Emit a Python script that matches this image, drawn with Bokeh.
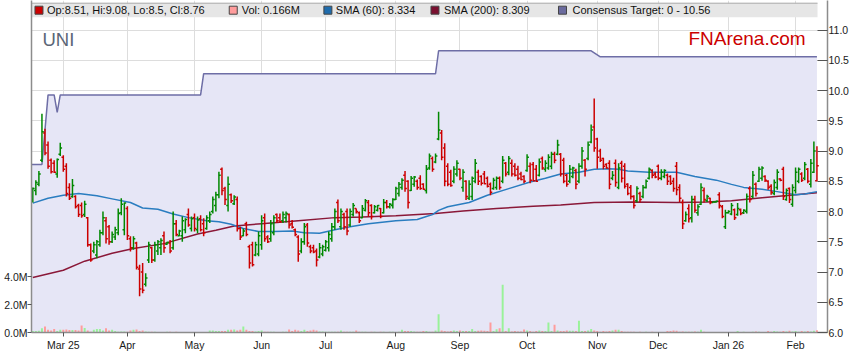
import pandas as pd
from bokeh.plotting import figure
from bokeh.models import Range1d, LinearAxis, FixedTicker, PrintfTickFormatter
from bokeh.core.properties import value
from bokeh.embed import file_html
from bokeh.resources import INLINE

# ---------------- data ----------------
ticker_name = "UNI"
site_name = "FNArena.com"
start_date = "2025-02-17"

opens = [8.20, 8.35, 8.45, 8.85, 9.30, 9.10, 8.85, 8.80, 8.62, 8.95,
         8.90, 8.75, 8.40, 8.25, 8.25, 8.10, 8.10, 7.95, 7.90, 7.45,
         7.35, 7.28, 7.45, 7.65, 7.85, 7.75, 7.50, 7.58, 7.65, 7.98,
         7.70, 8.05, 7.55, 7.40, 7.48, 7.05, 7.00, 6.80, 7.20, 7.40,
         7.20, 7.35, 7.40, 7.60, 7.46, 7.48, 7.40, 7.80, 7.60, 7.60,
         7.70, 7.95, 7.72, 7.90, 7.70, 7.88, 7.80, 7.72, 7.85, 8.00,
         8.10, 8.28, 8.70, 8.38, 8.10, 8.28, 8.13, 8.20, 7.72, 7.60,
         7.80, 7.42, 7.45, 7.28, 7.30, 7.45, 7.90, 7.58, 7.55, 7.65,
         7.95, 7.90, 7.85, 7.90, 7.95, 7.80, 7.70, 7.58, 7.35, 7.50,
         7.78, 7.42, 7.40, 7.35, 7.25, 7.30, 7.36, 7.40, 7.55, 7.75,
         8.15, 7.75, 7.95, 8.00, 7.78, 7.95, 8.05, 7.98, 7.90, 8.02,
         8.15, 8.10, 7.98, 8.02, 8.05, 7.98, 8.15, 8.08, 8.10, 8.20,
         8.30, 8.40, 8.60, 8.50, 8.35, 8.45, 8.50, 8.55, 8.45, 8.35,
         8.72, 8.88, 8.82, 9.20, 9.30, 9.05, 8.75, 8.65, 8.50, 8.62,
         8.70, 8.40, 8.50, 8.22, 8.25, 8.50, 8.65, 8.58, 8.62, 8.55,
         8.45, 8.38, 8.40, 8.55, 8.50, 8.80, 8.65, 8.80, 8.75, 8.70,
         8.62, 8.58, 8.68, 8.75, 8.78, 8.70, 8.60, 8.88, 8.70, 8.72,
         8.75, 8.95, 8.95, 8.95, 8.85, 8.60, 8.50, 8.58, 8.68, 8.50,
         8.75, 8.85, 8.88, 9.15, 9.40, 9.20, 9.00, 8.88, 8.78, 8.80,
         8.55, 8.80, 8.40, 8.80, 8.75, 8.45, 8.40, 8.25, 8.18, 8.30,
         8.25, 8.40, 8.55, 8.68, 8.62, 8.75, 8.55, 8.58, 8.60, 8.58,
         8.50, 8.75, 8.40, 8.15, 7.85, 8.05, 7.90, 8.20, 7.98, 8.12,
         8.35, 8.18, 8.22, 8.15, 8.16, 8.28, 8.08, 7.75, 7.98, 7.96,
         8.03, 7.95, 8.03, 7.98, 8.00, 8.38, 8.25, 8.45, 8.50, 8.55,
         8.58, 8.50, 8.42, 8.30, 8.40, 8.54, 8.70, 8.20, 8.38, 8.12,
         8.35, 8.50, 8.62, 8.55, 8.70, 8.45, 8.65, 8.51]
highs = [8.40, 8.52, 8.67, 9.62, 9.37, 9.16, 8.88, 8.85, 8.88, 9.14,
         8.93, 8.80, 8.47, 8.54, 8.27, 8.13, 8.15, 8.18, 7.91, 7.47,
         7.50, 7.53, 7.70, 8.00, 7.91, 7.78, 7.67, 7.75, 8.05, 8.22,
         8.15, 8.09, 7.59, 7.59, 7.50, 7.12, 7.15, 6.98, 7.50, 7.42,
         7.50, 7.53, 7.56, 7.67, 7.50, 7.53, 8.00, 7.86, 7.70, 7.92,
         7.89, 8.05, 7.92, 7.97, 7.92, 7.94, 7.89, 7.94, 8.00, 8.25,
         8.33, 8.66, 8.73, 8.41, 8.58, 8.30, 8.27, 8.25, 7.75, 7.72,
         7.83, 7.45, 7.50, 7.50, 7.67, 7.94, 7.97, 7.61, 7.86, 7.94,
         7.97, 7.97, 8.00, 8.00, 7.97, 7.86, 7.72, 7.61, 7.56, 7.81,
         7.81, 7.45, 7.45, 7.39, 7.48, 7.45, 7.53, 7.67, 7.81, 8.05,
         8.20, 8.05, 7.98, 8.05, 8.05, 8.14, 8.05, 8.00, 8.11, 8.21,
         8.19, 8.12, 8.11, 8.11, 8.06, 8.21, 8.19, 8.14, 8.22, 8.41,
         8.49, 8.55, 8.67, 8.52, 8.59, 8.59, 8.53, 8.60, 8.47, 8.77,
         8.96, 8.91, 8.96, 9.65, 9.35, 9.13, 8.80, 8.69, 8.75, 8.85,
         8.71, 8.70, 8.52, 8.52, 8.58, 8.87, 8.69, 8.60, 8.67, 8.58,
         8.48, 8.56, 8.58, 8.58, 8.92, 8.82, 8.92, 8.86, 8.80, 8.76,
         8.66, 8.60, 8.95, 8.81, 8.82, 8.77, 8.88, 8.91, 8.85, 8.95,
         8.99, 8.99, 9.19, 8.97, 8.89, 8.62, 8.77, 8.74, 8.71, 8.80,
         9.07, 8.87, 9.16, 9.44, 9.87, 9.22, 9.04, 8.89, 8.80, 8.85,
         8.67, 8.86, 8.80, 8.84, 8.80, 8.47, 8.44, 8.27, 8.42, 8.33,
         8.44, 8.53, 8.73, 8.70, 8.66, 8.78, 8.70, 8.70, 8.63, 8.60,
         8.56, 8.82, 8.45, 8.20, 8.00, 8.12, 8.26, 8.26, 8.12, 8.47,
         8.40, 8.28, 8.23, 8.17, 8.18, 8.32, 8.11, 8.03, 8.02, 8.14,
         8.05, 8.14, 8.05, 8.04, 8.30, 8.42, 8.67, 8.48, 8.74, 8.75,
         8.60, 8.52, 8.45, 8.53, 8.70, 8.55, 8.74, 8.38, 8.40, 8.45,
         8.73, 8.73, 8.65, 8.82, 8.72, 8.87, 9.16, 9.08]
lows = [8.15, 8.27, 8.42, 8.82, 8.93, 8.71, 8.63, 8.64, 8.56, 8.92,
        8.66, 8.25, 8.19, 8.23, 8.05, 7.91, 7.90, 7.91, 7.42, 7.17,
        7.31, 7.23, 7.42, 7.61, 7.47, 7.45, 7.48, 7.53, 7.61, 7.94,
        7.61, 7.53, 7.34, 7.37, 7.04, 6.60, 6.65, 6.76, 7.15, 7.15,
        7.17, 7.28, 7.28, 7.32, 7.45, 7.31, 7.37, 7.59, 7.59, 7.50,
        7.64, 7.75, 7.67, 7.67, 7.64, 7.67, 7.59, 7.70, 7.81, 7.97,
        8.00, 8.22, 8.27, 8.11, 8.00, 8.14, 8.11, 7.67, 7.53, 7.59,
        7.59, 7.06, 7.09, 7.26, 7.26, 7.37, 7.50, 7.48, 7.50, 7.61,
        7.81, 7.81, 7.81, 7.82, 7.72, 7.72, 7.59, 7.17, 7.31, 7.45,
        7.42, 7.31, 7.31, 7.09, 7.23, 7.26, 7.34, 7.34, 7.50, 7.70,
        7.81, 7.70, 7.70, 7.61, 7.75, 7.92, 7.97, 7.81, 7.89, 8.00,
        7.92, 7.87, 7.97, 8.00, 7.89, 7.97, 8.05, 8.05, 8.05, 8.19,
        8.25, 8.36, 8.33, 8.05, 8.34, 8.41, 8.36, 8.36, 8.36, 8.30,
        8.69, 8.66, 8.80, 9.18, 8.85, 8.42, 8.42, 8.41, 8.47, 8.58,
        8.52, 8.33, 8.19, 8.19, 8.19, 8.47, 8.44, 8.43, 8.45, 8.40,
        8.27, 8.36, 8.36, 8.36, 8.47, 8.58, 8.60, 8.58, 8.58, 8.52,
        8.52, 8.47, 8.66, 8.47, 8.50, 8.49, 8.58, 8.69, 8.66, 8.69,
        8.70, 8.80, 8.93, 8.58, 8.47, 8.41, 8.47, 8.55, 8.37, 8.47,
        8.71, 8.58, 8.85, 9.13, 8.99, 8.71, 8.82, 8.70, 8.71, 8.37,
        8.52, 8.41, 8.37, 8.48, 8.38, 8.27, 8.20, 8.05, 8.15, 8.15,
        8.22, 8.38, 8.53, 8.55, 8.55, 8.52, 8.52, 8.55, 8.44, 8.44,
        8.33, 8.27, 8.16, 7.71, 7.83, 7.82, 7.82, 7.98, 7.93, 8.11,
        8.15, 8.16, 8.12, 8.15, 8.15, 8.05, 7.89, 7.71, 7.97, 7.94,
        7.86, 7.93, 7.94, 7.96, 7.97, 8.15, 8.22, 8.25, 8.49, 8.51,
        8.49, 8.36, 8.28, 8.27, 8.36, 8.50, 8.19, 8.18, 8.14, 8.08,
        8.30, 8.47, 8.49, 8.52, 8.47, 8.40, 8.64, 8.50]
closes = [8.38, 8.48, 8.62, 9.32, 8.97, 8.75, 8.66, 8.65, 8.86, 9.05,
          8.70, 8.30, 8.22, 8.43, 8.08, 7.95, 7.93, 8.12, 7.45, 7.20,
          7.45, 7.50, 7.65, 7.90, 7.55, 7.50, 7.62, 7.70, 7.97, 8.12,
          8.14, 7.60, 7.40, 7.55, 7.08, 6.72, 6.70, 6.90, 7.45, 7.20,
          7.45, 7.50, 7.52, 7.40, 7.49, 7.35, 7.80, 7.62, 7.68, 7.85,
          7.87, 7.78, 7.88, 7.72, 7.86, 7.70, 7.65, 7.90, 7.95, 8.20,
          8.28, 8.60, 8.35, 8.20, 8.45, 8.18, 8.24, 7.72, 7.58, 7.68,
          7.62, 7.15, 7.12, 7.45, 7.60, 7.85, 7.55, 7.50, 7.80, 7.90,
          7.85, 7.83, 7.95, 7.97, 7.78, 7.74, 7.62, 7.30, 7.50, 7.75,
          7.48, 7.35, 7.33, 7.20, 7.40, 7.42, 7.50, 7.62, 7.75, 8.00,
          7.85, 8.00, 7.75, 7.68, 8.00, 8.10, 8.00, 7.85, 8.05, 8.18,
          7.98, 7.92, 8.08, 8.10, 7.92, 8.15, 8.08, 8.12, 8.20, 8.38,
          8.45, 8.52, 8.38, 8.15, 8.55, 8.57, 8.40, 8.38, 8.37, 8.70,
          8.92, 8.70, 8.92, 9.35, 8.90, 8.50, 8.45, 8.43, 8.70, 8.80,
          8.55, 8.65, 8.25, 8.45, 8.55, 8.80, 8.50, 8.47, 8.46, 8.42,
          8.32, 8.52, 8.55, 8.40, 8.85, 8.62, 8.88, 8.62, 8.60, 8.55,
          8.53, 8.50, 8.90, 8.52, 8.51, 8.50, 8.82, 8.72, 8.80, 8.90,
          8.95, 8.85, 9.10, 8.62, 8.50, 8.45, 8.70, 8.72, 8.45, 8.75,
          9.00, 8.70, 9.10, 9.35, 9.05, 8.90, 8.85, 8.75, 8.72, 8.45,
          8.60, 8.48, 8.72, 8.55, 8.42, 8.30, 8.25, 8.10, 8.38, 8.20,
          8.40, 8.50, 8.70, 8.60, 8.57, 8.55, 8.65, 8.68, 8.50, 8.47,
          8.38, 8.36, 8.22, 7.80, 7.95, 7.88, 8.20, 8.02, 8.08, 8.40,
          8.20, 8.25, 8.15, 8.16, 8.17, 8.10, 7.92, 7.98, 8.00, 8.10,
          7.90, 8.05, 7.97, 8.02, 8.25, 8.20, 8.60, 8.30, 8.70, 8.72,
          8.52, 8.40, 8.32, 8.48, 8.65, 8.52, 8.25, 8.35, 8.20, 8.40,
          8.65, 8.70, 8.52, 8.78, 8.50, 8.80, 9.00, 8.76]
volumes_m = [0.10, 0.10, 0.12, 0.30, 0.43, 0.20, 0.15, 0.25, 0.10, 0.20,
             0.20, 0.22, 0.18, 0.18, 0.18, 0.15, 0.50, 0.33, 0.15, 0.05,
             0.20, 0.25, 0.25, 0.15, 0.30, 0.15, 0.20, 0.10, 0.05, 0.08,
             0.08, 0.05, 0.15, 0.20, 0.22, 0.10, 0.15, 0.08, 0.05, 0.05,
             0.05, 0.04, 0.03, 0.03, 0.05, 0.05, 0.04, 0.05, 0.03, 0.03,
             0.03, 0.04, 0.03, 0.03, 0.03, 0.04, 0.03, 0.03, 0.15, 0.15,
             0.10, 0.10, 0.10, 0.10, 0.20, 0.20, 0.22, 0.15, 0.20, 0.43,
             0.20, 0.10, 0.10, 0.08, 0.10, 0.15, 0.05, 0.05, 0.05, 0.05,
             0.03, 0.03, 0.05, 0.05, 0.22, 0.10, 0.20, 0.15, 0.10, 0.20,
             0.10, 0.15, 0.20, 0.15, 0.08, 0.07, 0.05, 0.05, 0.06, 0.05,
             0.05, 0.15, 0.05, 0.06, 0.05, 0.05, 0.15, 0.05, 0.05, 0.05,
             0.04, 0.05, 0.05, 0.04, 0.05, 0.05, 0.04, 0.05, 0.05, 0.04,
             0.05, 0.20, 0.10, 0.10, 0.10, 0.08, 0.05, 0.05, 0.10, 0.10,
             0.05, 0.05, 0.15, 1.32, 0.15, 0.10, 0.08, 0.10, 0.15, 0.10,
             0.15, 0.10, 0.10, 0.10, 0.25, 0.10, 0.12, 0.15, 0.12, 0.10,
             0.72, 0.10, 0.24, 0.30, 3.43, 0.10, 0.30, 0.07, 0.10, 0.08,
             0.08, 0.22, 0.15, 0.10, 0.05, 0.10, 0.15, 0.10, 0.10, 0.72,
             0.10, 0.55, 0.15, 0.10, 0.10, 0.15, 0.12, 0.12, 0.10, 0.84,
             0.10, 0.10, 0.15, 0.25, 0.15, 0.10, 0.05, 0.10, 0.07, 0.10,
             0.15, 0.20, 0.20, 0.10, 0.05, 0.05, 0.05, 0.05, 0.04, 0.05,
             0.04, 0.05, 0.04, 0.05, 0.03, 0.04, 0.03, 0.03, 0.10, 0.10,
             0.15, 0.12, 0.05, 0.08, 0.05, 0.05, 0.06, 0.08, 0.05, 0.20,
             0.05, 0.04, 0.03, 0.03, 0.04, 0.03, 0.03, 0.03, 0.03, 0.03,
             0.04, 0.10, 0.04, 0.05, 0.04, 0.04, 0.05, 0.08, 0.05, 0.03,
             0.04, 0.10, 0.05, 0.10, 0.08, 0.05, 0.10, 0.08, 0.12, 0.08,
             0.10, 0.06, 0.10, 0.08, 0.10, 0.08, 0.12, 0.166]

sma60_idx = [0, 5, 10, 15, 21, 26, 32, 36, 41, 46, 51, 57, 61, 65, 69, 74, 79, 85, 89, 94,
             99, 104, 110, 119, 126, 129, 131, 133, 136, 143, 149, 156, 163, 168, 173, 179,
             184, 189, 192, 195, 202, 211, 217, 224, 229, 233, 239, 244, 250, 253, 257]
sma60_val = [8.14, 8.22, 8.27, 8.30, 8.26, 8.21, 8.15, 8.06, 8.04, 7.96, 7.90, 7.85, 7.83,
             7.79, 7.72, 7.67, 7.67, 7.68, 7.65, 7.64, 7.70, 7.75, 7.80, 7.85, 7.87, 7.92,
             7.95, 8.02, 8.08, 8.15, 8.27, 8.38, 8.49, 8.55, 8.62, 8.65, 8.70, 8.71, 8.70,
             8.67, 8.65, 8.65, 8.58, 8.52, 8.45, 8.40, 8.37, 8.33, 8.28, 8.29, 8.33]
sma200_idx = [0, 10, 17, 26, 33, 43, 54, 60, 66, 75, 87, 99, 108, 119, 132, 141, 152, 164,
              173, 184, 197, 211, 221, 229, 239, 250, 257]
sma200_val = [6.91, 7.03, 7.18, 7.31, 7.39, 7.47, 7.63, 7.69, 7.76, 7.80, 7.85, 7.90, 7.91,
              7.93, 7.97, 8.01, 8.05, 8.09, 8.11, 8.15, 8.16, 8.15, 8.16, 8.18, 8.23, 8.28, 8.31]
target_idx = [0, 3, 5, 7, 8, 9, 55, 56, 132, 133, 183, 186, 257]
target_val = [8.78, 8.78, 9.93, 9.93, 9.64, 9.93, 9.93, 10.28, 10.28, 10.66, 10.66, 10.56, 10.56]

sma60_last = 8.334
sma200_last = 8.309
target_text = "0 - 10.56"
price_ticks = [6.0, 6.5, 7.0, 7.5, 8.0, 8.5, 9.0, 9.5, 10.0, 10.5, 11.0]
vol_ticks = [0, 2, 4]

# ---------------- layout (pixels) ----------------
W, H = 851, 355
FL, FR, FB = 31, 830, 332          # frame left/right/bottom in canvas px
n = len(closes)
x_scale = (819.4 - 32.3) / (n - 1)
xr_start = -(32.3 - FL) / x_scale
xr_end = xr_start + (FR - FL) / x_scale
y_scale = (FB - 29.7) / 5.0
yr_end = 6.0 + FB / y_scale
vol_top = FB / 13.9


def wx(px):
    """canvas pixel x -> data x"""
    return xr_start + (px - FL) / x_scale


def wy(py):
    """canvas pixel y -> price"""
    return yr_end - py / y_scale


dates = pd.bdate_range(start_date, periods=n)
idx = list(range(n))

month_idx, month_lbl = [], []
for i in range(1, n):
    if dates[i].month != dates[i - 1].month:
        d = dates[i]
        yr = (not month_idx) or d.month == 1
        month_idx.append(i)
        month_lbl.append(d.strftime("%b %y") if yr else d.strftime("%b"))

up_col, dn_col = "#008800", "#CC0000"
colors, vcolors = [], []
for i in range(n):
    up = i == 0 or closes[i] >= closes[i - 1]
    colors.append(up_col if up else dn_col)
    vcolors.append("#99F299" if up else "#FF9C9C")

FONT = "Liberation Sans"

p = figure(width=W, height=H, x_range=Range1d(xr_start, xr_end),
           y_range=Range1d(6.0, yr_end), output_backend="svg",
           toolbar_location=None, y_axis_location="right",
           min_border_left=FL, min_border_right=W - FR,
           min_border_top=0, min_border_bottom=H - FB)
p.outline_line_color = None
p.background_fill_color = "white"
p.border_fill_color = "white"

# grid
p.xgrid.ticker = FixedTicker(ticks=month_idx)
p.ygrid.ticker = FixedTicker(ticks=price_ticks)
p.grid.grid_line_color = "#DDDDDD"
p.grid.grid_line_width = 1

# price axis (right)
pax = p.yaxis[0]
pax.ticker = FixedTicker(ticks=price_ticks)
pax.formatter = PrintfTickFormatter(format="%.1f")
pax.major_tick_in = 10
pax.major_tick_out = 0
pax.minor_tick_line_color = None
pax.major_label_standoff = 1

# volume axis (left)
p.extra_y_ranges = {"vol": Range1d(0, vol_top)}
vax = LinearAxis(y_range_name="vol", ticker=FixedTicker(ticks=vol_ticks),
                 formatter=PrintfTickFormatter(format="%.1fM"))
vax.major_tick_out = 4
vax.major_tick_in = 0
vax.minor_tick_line_color = None
vax.major_label_standoff = 0
p.add_layout(vax, "left")

# time axis (bottom)
xax = p.xaxis[0]
xax.ticker = FixedTicker(ticks=month_idx)
xax.major_label_overrides = {i: l for i, l in zip(month_idx, month_lbl)}
xax.major_tick_out = 4
xax.major_tick_in = 0
xax.minor_tick_line_color = None
xax.major_label_standoff = 2

for ax in (pax, vax, xax):
    ax.axis_line_color = "#8C8C8C"
    ax.axis_line_width = 1.5
    ax.major_tick_line_color = "#555555"
    ax.major_label_text_font = FONT
    ax.major_label_text_font_size = "10.5px"
    ax.major_label_text_color = "#1A1A1A"

# consensus target area
fill_x = [xr_start] + target_idx
fill_y = [target_val[0]] + target_val
p.varea(x=fill_x, y1=6.0, y2=fill_y, fill_color="#E6E6F6")
p.line(fill_x, fill_y, line_color="#6E6EA6", line_width=1.5)

# legend band
band_top, band_bot = wy(2.7), wy(16.7)
band_mid = (band_top + band_bot) / 2
p.quad(left=[xr_start], right=[wx(820)], top=[band_top], bottom=[band_bot],
       fill_color="#E6E6E6", line_color=None)
p.segment(x0=[xr_start], y0=[band_top], x1=[wx(820)], y1=[band_top],
          line_color="#A8A8A8", line_width=1)

# volume
p.vbar(x=idx, top=volumes_m, width=0.65, y_range_name="vol",
       fill_color=vcolors, line_color=None)

# moving averages
p.line(sma200_idx, sma200_val, line_color="#8A1838", line_width=1.5)
p.line(sma60_idx, sma60_val, line_color="#2A7DC0", line_width=1.5)

# OHLC bars
tk = 0.6
p.segment(x0=idx, y0=lows, x1=idx, y1=highs, line_color=colors, line_width=1.5)
p.segment(x0=[i - tk for i in idx], y0=opens, x1=idx, y1=opens, line_color=colors, line_width=1.5)
p.segment(x0=idx, y0=closes, x1=[i + tk for i in idx], y1=closes, line_color=colors, line_width=1.5)

# legend content
leg_text = [
    f"Op:{opens[-1]:g}, Hi:{highs[-1]:g}, Lo:{lows[-1]:g}, Cl:{closes[-1]:g}",
    f"Vol: {volumes_m[-1]:.3f}M",
    f"SMA (60): {sma60_last:.3f}",
    f"SMA (200): {sma200_last:.3f}",
    f"Consensus Target: {target_text}",
]
leg_sq_x = [wx(38.5), wx(233.5), wx(328.5), wx(436), wx(564)]
leg_tx_x = [wx(46.5), wx(242), wx(336.5), wx(445), wx(574)]
leg_cols = ["#CC0000", "#FF9C9C", "#1F6CAD", "#7A1030", "#6B6B9E"]
p.scatter(x=leg_sq_x, y=[band_mid] * 5, marker="square", size=8,
          fill_color=leg_cols, line_color="#444444", line_width=1)
p.text(x=leg_tx_x, y=[band_mid] * 5, text=leg_text, text_font=value(FONT),
       text_font_size=value("11px"), text_baseline="middle", text_color="#111111")

# titles
p.text(x=[wx(42)], y=[wy(39.3)], text=[ticker_name], text_font=value(FONT),
       text_font_size=value("18.5px"), text_baseline="alphabetic", text_color="#5B6677")
p.text(x=[wx(808)], y=[wy(38.3)], text=[site_name], text_font=value(FONT),
       text_font_size=value("19px"), text_baseline="alphabetic", text_align="right",
       text_color="#CC0000")

open("out.html", "w").write(file_html(p, INLINE))
